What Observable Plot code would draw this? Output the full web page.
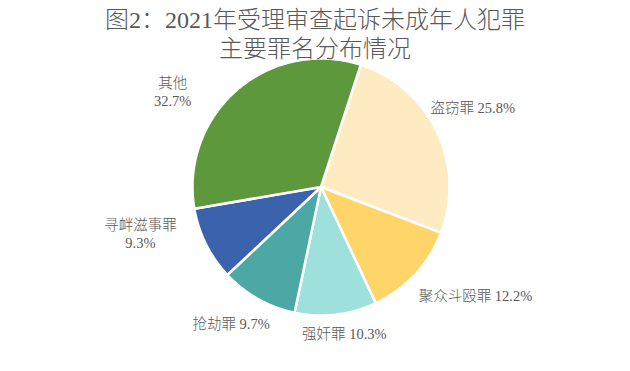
<!DOCTYPE html>
<html><head><meta charset="utf-8">
<script src="https://cdn.jsdelivr.net/npm/d3@7"></script>
<script src="https://cdn.jsdelivr.net/npm/@observablehq/plot@0.6"></script>
<style>
html,body{margin:0;padding:0;background:#fff;}
#wrap{position:relative;width:630px;height:371px;overflow:hidden;}
#title{position:absolute;left:0;top:6px;width:630px;text-align:center;font-family:"Liberation Serif","Noto Sans CJK SC",serif;font-size:24px;font-weight:300;line-height:29px;color:#595959;z-index:2;pointer-events:none;}
#chart svg{display:block;}
</style></head><body>
<div id="wrap"><div id="title">图2：2021年受理审查起诉未成年人犯罪<br>主要罪名分布情况</div><div id="chart"></div></div>
<script>
// ---- data ----
const categories = ["盗窃罪", "聚众斗殴罪", "强奸罪", "抢劫罪", "寻衅滋事罪", "其他"];
const values = [25.8, 12.2, 10.3, 9.7, 9.3, 32.7];
const valueLabels = ["25.8%", "12.2%", "10.3%", "9.7%", "9.3%", "32.7%"];

// ---- style / layout ----
const colors = ["#FFEBC1", "#FFD56A", "#9DE0DC", "#4BA8A4", "#3A62AD", "#5E983C"];
const labelMultiline = [false, false, false, false, true, true];
const labelNudge = [[1, -8], [32, -5], [4, -20], [-8, -9], [-31, -28], [-39, 31]]; // px
const startDeg = 18;
const cx = 320.5, cy = 186.5, R = 128.5, labelK = 1.3;

const total = d3.sum(values);
const toRad = Math.PI / 180;
let acc = startDeg;
const slices = categories.map((c, i) => {
  const a0 = acc, a1 = acc + values[i] / total * 360;
  acc = a1;
  return {cat: c, a0, a1, mid: (a0 + a1) / 2};
});

// polygon outline of each slice (center -> arc -> center) in unit coords
const pts = [];
for (const s of slices) {
  pts.push({cat: s.cat, x: 0, y: 0});
  const n = Math.max(8, Math.ceil((s.a1 - s.a0) / 1));
  for (let j = 0; j <= n; j++) {
    const a = (s.a0 + (s.a1 - s.a0) * j / n) * toRad;
    pts.push({cat: s.cat, x: Math.sin(a), y: Math.cos(a)});
  }
  pts.push({cat: s.cat, x: 0, y: 0});
}

const labels = slices.map((s, i) => {
  const a = s.mid * toRad;
  return {
    text: categories[i] + (labelMultiline[i] ? "\n" : " ") + valueLabels[i],
    x: labelK * Math.sin(a) + labelNudge[i][0] / R,
    y: labelK * Math.cos(a) - labelNudge[i][1] / R
  };
});

const chart = Plot.plot({
  width: 630,
  height: 371,
  margin: 0,
  x: {domain: [-1, 1], range: [cx - R, cx + R], axis: null},
  y: {domain: [-1, 1], range: [cy + R, cy - R], axis: null},
  color: {domain: categories, range: colors},
  style: {background: "white"},
  marks: [
    Plot.line(pts, {x: "x", y: "y", z: "cat", fill: "cat", stroke: "white", strokeWidth: 2.5, strokeLinejoin: "round", curve: "linear"}),
    Plot.text(labels, {x: "x", y: "y", text: "text", fill: "#595959", fontSize: 14.5, fontWeight: 300, lineHeight: 1.24, textAnchor: "middle",
      fontFamily: "'Liberation Serif', 'Noto Sans CJK SC', serif"})
  ]
});
document.getElementById("chart").appendChild(chart);
</script>
</body></html>
